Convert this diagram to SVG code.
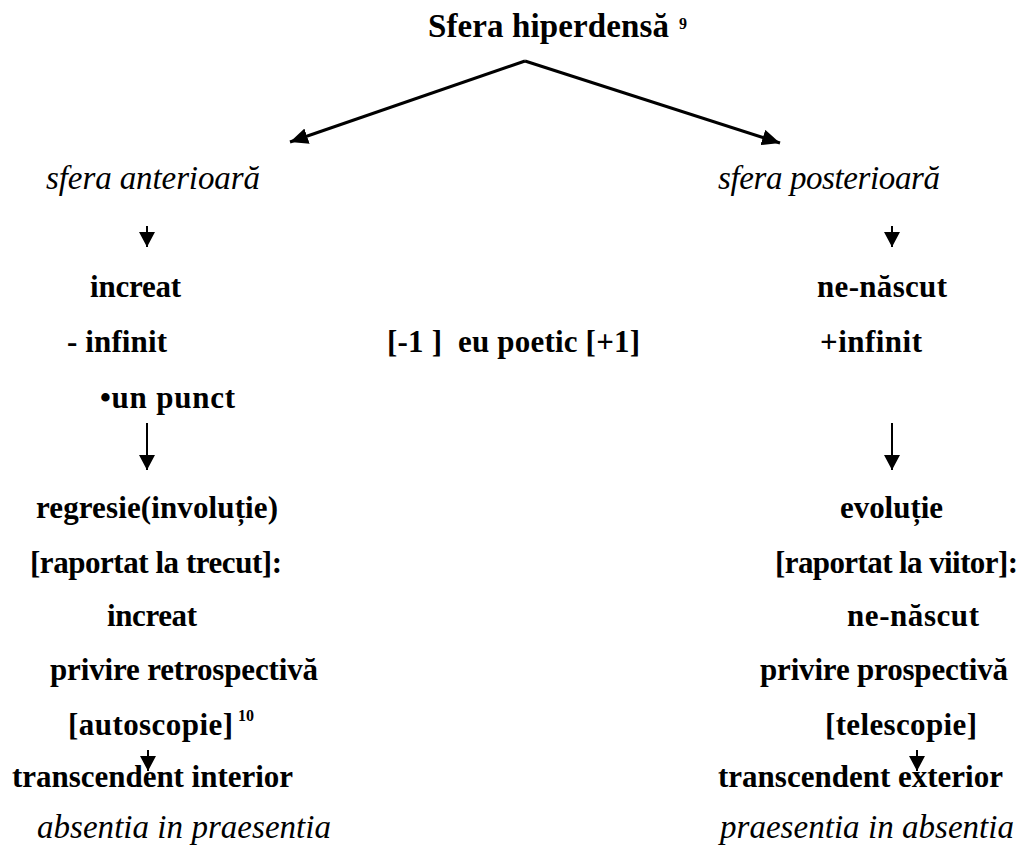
<svg xmlns="http://www.w3.org/2000/svg" width="1022" height="852" viewBox="0 0 1022 852">
<style>
text{font-family:"Liberation Serif","Times New Roman",serif;fill:#000}
.b{font-weight:bold;font-size:31px}
.t{font-weight:bold;font-size:33px}
.i{font-style:italic;font-size:33px}
.sup{font-weight:bold;font-size:16px}
.c{stroke:#000;fill:none}
.d{stroke-width:3}
.v{stroke-width:2}
</style>
<defs>
<marker id="ah" markerWidth="16" markerHeight="16" refX="15" refY="8" orient="auto" markerUnits="userSpaceOnUse">
<path d="M0,0 L15,8 L0,16 z" fill="#000"/>
</marker>
<marker id="ahd" markerWidth="19" markerHeight="16" refX="18" refY="8" orient="auto" markerUnits="userSpaceOnUse">
<path d="M0,0 L18,8 L0,16 z" fill="#000"/>
</marker>
</defs>
<rect width="1022" height="852" fill="#fff"/>
<g id="connectors">
<path class="c d" d="M525,61 L290,142" marker-end="url(#ahd)"/>
<path class="c d" d="M525,61 L780,143" marker-end="url(#ahd)"/>
<path class="c v" d="M147,226 L147,247" marker-end="url(#ah)"/>
<path class="c v" d="M892,226 L892,247" marker-end="url(#ah)"/>
<path class="c v" d="M147,423 L147,470" marker-end="url(#ah)"/>
<path class="c v" d="M892,423 L892,470" marker-end="url(#ah)"/>
<path class="c v" d="M148,750 L148,771" marker-end="url(#ah)"/>
<path class="c v" d="M917,750 L917,771" marker-end="url(#ah)"/>
</g>
<g id="n-title"><text class="t" x="428" y="37" textLength="241">Sfera hiperdensă</text><text class="sup" x="679" y="29">9</text></g>
<g id="n-ant"><text class="i" x="46" y="189" textLength="214">sfera anterioară</text></g>
<g id="n-post"><text class="i" x="718" y="189" textLength="222">sfera posterioară</text></g>
<g id="n-increat1"><text class="b" x="90" y="297" textLength="91">increat</text></g>
<g id="n-infinit1"><text class="b" x="67" y="352" textLength="100">- infinit</text></g>
<g id="n-punct"><text class="b" x="100" y="408" textLength="135">•un punct</text></g>
<g id="n-eu"><text class="b" x="387" y="352" textLength="253" xml:space="preserve">[-1 ]  eu poetic [+1]</text></g>
<g id="n-nenascut1"><text class="b" x="817" y="297" textLength="130">ne-născut</text></g>
<g id="n-infinit2"><text class="b" x="820" y="352" textLength="102">+infinit</text></g>
<g id="n-left">
<text class="b" x="36" y="518" textLength="242">regresie(involuție)</text>
<text class="b" x="30" y="573" textLength="252">[raportat la trecut]:</text>
<text class="b" x="107" y="626" textLength="90">increat</text>
<text class="b" x="50" y="680" textLength="268">privire retrospectivă</text>
<text class="b" x="68" y="735" textLength="165">[autoscopie]</text><text class="sup" x="238" y="721">10</text>
<text class="b" x="12" y="787" textLength="281">transcendent interior</text>
<text class="i" x="37" y="838" textLength="294">absentia in praesentia</text>
</g>
<g id="n-right">
<text class="b" x="840" y="518" textLength="103">evoluție</text>
<text class="b" x="775" y="573" textLength="243">[raportat la viitor]:</text>
<text class="b" x="847" y="626" textLength="132">ne-născut</text>
<text class="b" x="760" y="680" textLength="248">privire prospectivă</text>
<text class="b" x="825" y="735" textLength="152">[telescopie]</text>
<text class="b" x="718" y="787" textLength="285">transcendent exterior</text>
<text class="i" x="720" y="838" textLength="294">praesentia in absentia</text>
</g>
</svg>
